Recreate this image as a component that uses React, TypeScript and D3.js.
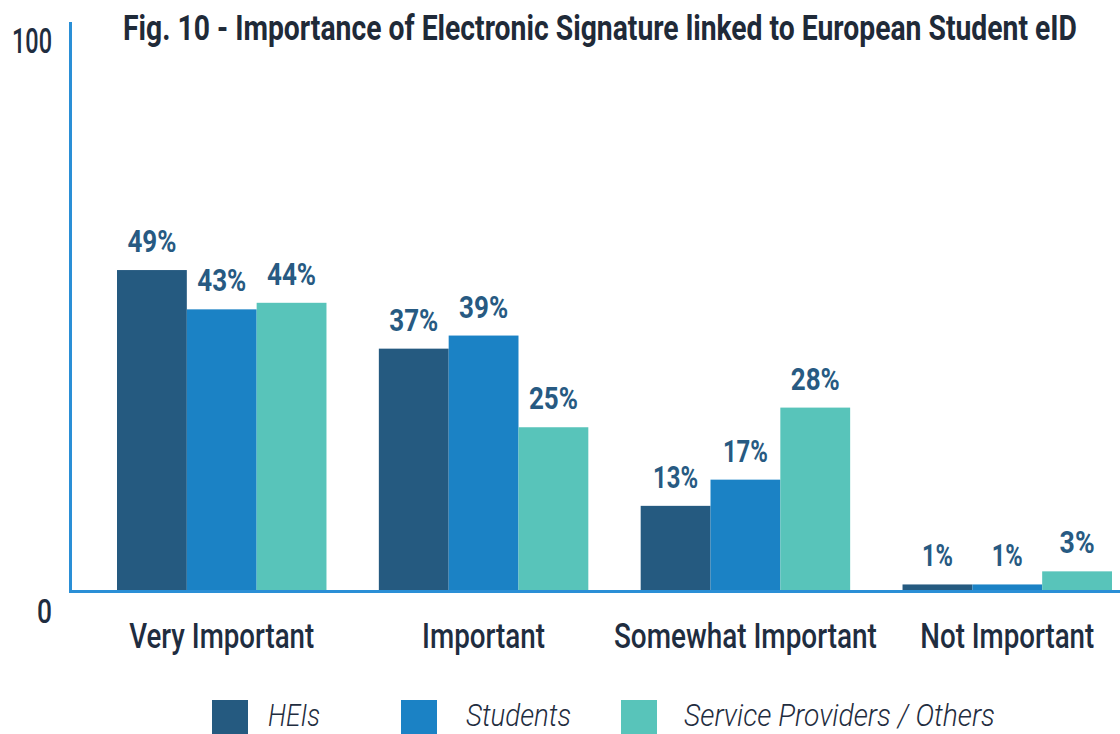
import React from "react";
import * as d3 from "d3";

const categories = ["Very Important", "Important", "Somewhat Important", "Not Important"];
const seriesNames = ["HEIs", "Students", "Service Providers / Others"];
const heis = [49, 37, 13, 1];
const students = [43, 39, 17, 1];
const serviceProviders = [44, 25, 28, 3];
const yTickLabels = ["0", "100"];
const title = "Fig. 10 - Importance of Electronic Signature linked to European Student eID";

const seriesValues = [heis, students, serviceProviders];
const colors = ["#255a80", "#1b82c5", "#58c4ba"];

const W = 1120;
const H = 734;
const baseY = 591;
const axisColor = "#2a8fd6";
const textDark = "#1f2d40";
const labelColor = "#275a82";
const FONT = "Roboto, 'Noto Sans', sans-serif";

// approximate widths for condensed value labels
const charW: Record<string, number> = { "1": 10, "%": 21 };
const labelWidth = (s: string) => s.split("").reduce((a, c) => a + (charW[c] ?? 14), 0);

const catWidths: Record<string, number> = {
  "Very Important": 185,
  "Important": 123,
  "Somewhat Important": 263,
  "Not Important": 174,
};
const legendWidths = [52, 105, 311];
const legendSquareX = [212, 401, 621];
const legendTextX = [268, 466, 684];

type STProps = {
  x: number; y: number; width: number; size: number; sy: number;
  weight?: number; italic?: boolean; fill: string; children: string;
};
function StretchText({ x, y, width, size, sy, weight = 400, italic = false, fill, children }: STProps) {
  return (
    <text transform={`translate(${x},${y}) scale(1,${sy})`} x={0} y={0}
      fontFamily={FONT} fontSize={size} fontWeight={weight} fontStyle={italic ? "italic" : "normal"}
      fill={fill} textLength={width} lengthAdjust="spacingAndGlyphs">{children}</text>
  );
}

export default function App() {
  const x0 = d3.scaleBand<string>().domain(categories).range([117, 1112]).paddingInner(0.2).paddingOuter(0);
  const x1 = d3.scaleBand<string>().domain(seriesNames).range([0, x0.bandwidth()]).padding(0);
  const y = d3.scaleLinear().domain([0, 100]).range([baseY, baseY - 655]);

  return (
    <svg width={W} height={H} style={{ position: "absolute", left: 0, top: 0, background: "#fff" }}>
      <rect x={0} y={0} width={W} height={H} fill="#fff" />
      {/* Title */}
      <StretchText x={123} y={40} width={954} size={25} sy={1.4} weight={700} fill="#1f2a38">{title}</StretchText>

      {/* Y axis labels */}
      <StretchText x={12} y={53} width={40} size={24} sy={1.45} weight={500} fill={textDark}>{yTickLabels[1]}</StretchText>
      <StretchText x={37} y={623} width={15} size={24} sy={1.35} weight={500} fill={textDark}>{yTickLabels[0]}</StretchText>

      {/* Bars */}
      {categories.map((c, ci) => (
        <g key={c} transform={`translate(${x0(c)},0)`}>
          {seriesNames.map((s, si) => {
            const v = seriesValues[si][ci];
            const bx = x1(s)!;
            const lbl = `${v}%`;
            const lw = labelWidth(lbl);
            return (
              <g key={s}>
                <rect x={bx} y={y(v)} width={x1.bandwidth()} height={baseY - y(v)} fill={colors[si]} />
                <StretchText x={bx + x1.bandwidth() / 2 - lw / 2} y={y(v) - 18} width={lw}
                  size={26} sy={1.2} weight={700} fill={labelColor}>{lbl}</StretchText>
              </g>
            );
          })}
        </g>
      ))}

      {/* Axis lines */}
      <line x1={70.5} x2={70.5} y1={22} y2={592} stroke={axisColor} strokeWidth={3} />
      <line x1={69} x2={W} y1={591.5} y2={591.5} stroke={axisColor} strokeWidth={3} />

      {/* Category labels */}
      {categories.map((c) => {
        const cx = x0(c)! + x0.bandwidth() / 2;
        const w = catWidths[c];
        return (
          <StretchText key={c} x={cx - w / 2} y={648} width={w} size={26} sy={1.35} weight={500} fill={textDark}>{c}</StretchText>
        );
      })}

      {/* Legend */}
      {seriesNames.map((s, i) => (
        <g key={s}>
          <rect x={legendSquareX[i]} y={700} width={36} height={36} fill={colors[i]} />
          <StretchText x={legendTextX[i]} y={725.5} width={legendWidths[i]} size={25} sy={1.26}
            weight={300} italic fill={textDark}>{s}</StretchText>
        </g>
      ))}
    </svg>
  );
}
